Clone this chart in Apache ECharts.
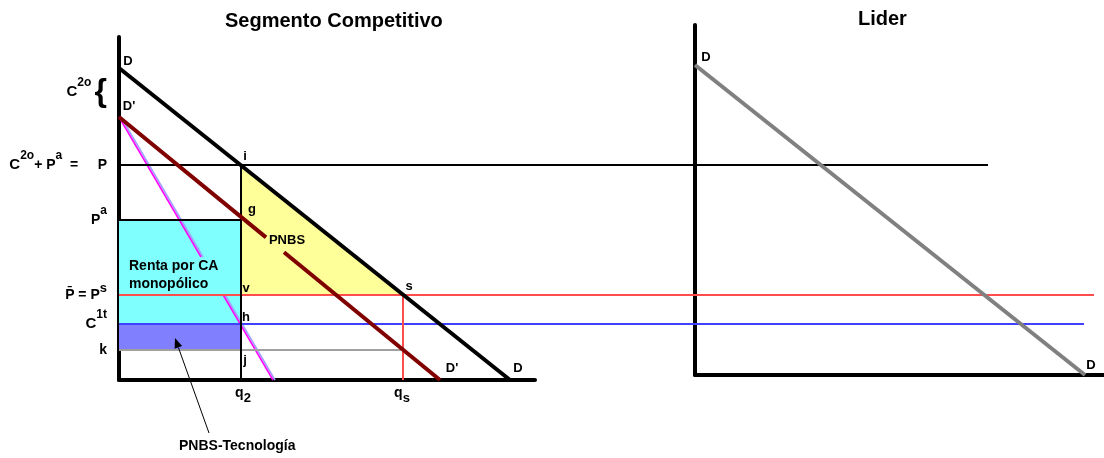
<!DOCTYPE html>
<html style="height: 100%">
<head>
<meta charset="utf-8">
<script src="https://cdn.jsdelivr.net/npm/echarts@6/dist/echarts.min.js"></script>
</head>
<body style="height: 100%; margin: 0; background: #fff">
<div id="container" style="width: 1104px; height: 458px;"></div>
<script type="text/javascript">
// cantidades (x) y precios (y), 1 unidad = 20 px en ambos paneles
var curvaD = [[0, 15.6], [19.55, 0]];
var curvaD2a = [[0, 13.15], [7.35, 7.13]];
var curvaD2b = [[8.25, 6.39], [16.05, 0]];
var tecA = [0, 13.15, 4.1, 6.15];
var tecB = [5.21, 4.25, 7.7, 0];
var lineaP = [[0, 10.75], [43.45, 10.75]];
var lineaPa = [[0, 8], [6.1, 8]];
var lineaPs = [[0, 4.25], [48.75, 4.25]];
var lineaC1t = [[0, 2.8], [48.25, 2.8]];
var lineaK = [[0, 1.5], [14.2, 1.5]];
var lineaQ2 = [[6.1, 0], [6.1, 10.75]];
var lineaQs = [[14.2, 0], [14.2, 4.25]];
var triPNBS = [6.1, 10.75, 6.1, 4.25, 14.2, 4.25];
var rectRenta = [0, 2.8, 6.1, 2.8, 6.1, 8, 0, 8];
var rectTec = [0, 1.5, 6.1, 1.5, 6.1, 2.8, 0, 2.8];
var flecha = [4.5, -2.65, 2.8, 2.1];
var liderD = [[0, 15.5], [19.5, 0]];

var precioTicks = [1.5, 2.8, 4.25, 8, 10.75, 14.4];
var precioTextos = [
	'{b|k}',
	'{c|C}{s|1t}',
	'{b|P\u0304 = P}{s2|s}',
	'{b|P}{s|a}',
	'{c|C}{s|2o}{b|+ P}{s|a}{b|  =     P}',
	'{c|C}{s|2o} {br|{}'
];
// [x, y, texto, align, tamaño]
var etiquetas = [
	[0.45, 15.95, 'D', 'center'],
	[0.5, 13.7, "D'", 'center'],
	[6.3, 11.2, 'i', 'center'],
	[6.65, 8.55, 'g', 'center'],
	[8.4, 7.0, 'PNBS', 'center'],
	[14.5, 4.7, 's', 'center'],
	[6.35, 4.6, 'v', 'center'],
	[6.35, 3.15, 'h', 'center'],
	[6.3, 1.0, 'j', 'center'],
	[16.65, 0.6, "D'", 'center'],
	[19.95, 0.6, 'D', 'center'],
	[0.5, 5.25, 'Renta por CA\nmonopólico', 'left', 14],
	[6.2, -0.65, '{q|q}{sub|2}', 'center'],
	[14.15, -0.65, '{q|q}{sub|s}', 'center'],
	[3.0, -3.3, 'PNBS-Tecnología', 'left', 14]
];
var etiquetasLider = [[0.55, 15.9, 'D'], [19.8, 0.5, 'D']];

var fuente = 'Liberation Sans, Arial, sans-serif';

function tramo(data, color, width, grid) {
	return {
		type : 'line',
		xAxisIndex : grid || 0,
		yAxisIndex : grid || 0,
		data : data,
		symbol : 'none',
		clip : false,
		silent : true,
		animation : false,
		lineStyle : { color : color, width : width },
		z : 3
	};
}
// linea doble magenta / celeste
function tecnologia(seg) {
	return {
		type : 'custom',
		xAxisIndex : 0,
		yAxisIndex : 0,
		data : [seg],
		silent : true,
		animation : false,
		z : 3,
		renderItem : function(params, api) {
			var a = api.coord([api.value(0), api.value(1)]);
			var b = api.coord([api.value(2), api.value(3)]);
			return {
				type : 'group',
				children : [
					{ type : 'line', shape : { x1 : a[0] + 2, y1 : a[1], x2 : b[0] + 2, y2 : b[1] }, style : { stroke : '#a0a0ff', lineWidth : 1.5 } },
					{ type : 'line', shape : { x1 : a[0], y1 : a[1], x2 : b[0], y2 : b[1] }, style : { stroke : '#ff00ff', lineWidth : 1.5 } }
				]
			};
		}
	};
}
function poligono(pts, color) {
	return {
		type : 'custom',
		xAxisIndex : 0,
		yAxisIndex : 0,
		data : [pts],
		silent : true,
		animation : false,
		z : 1,
		renderItem : function(params, api) {
			var p = [];
			for (var i = 0; i < pts.length; i += 2) {
				p.push(api.coord([api.value(i), api.value(i + 1)]));
			}
			return { type : 'polygon', shape : { points : p }, style : { fill : color } };
		}
	};
}
function textos(lista, grid) {
	return {
		type : 'scatter',
		xAxisIndex : grid,
		yAxisIndex : grid,
		symbolSize : 1,
		clip : false,
		silent : true,
		animation : false,
		itemStyle : { color : 'rgba(0,0,0,0)', opacity : 1 },
		z : 5,
		data : lista.map(function(e) {
			var lab = { align : e[3] || 'center' };
			if (e[4]) lab.fontSize = e[4];
			return { value : [e[0], e[1]], name : e[2], label : lab };
		}),
		label : {
			show : true,
			position : 'inside',
			color : '#000',
			textBorderWidth : 0,
			fontFamily : fuente,
			fontWeight : 'bold',
			fontSize : 13,
			lineHeight : 18,
			formatter : function(p) { return p.name; },
			rich : {
				q : { fontSize : 14, fontWeight : 'bold', fontFamily : fuente, color : '#000' },
				sub : { fontSize : 13, fontWeight : 'bold', fontFamily : fuente, color : '#000', padding : [10, 0, 0, 0] }
			}
		}
	};
}

var myChart = echarts.init(document.getElementById('container'));
var eje = { show : true, lineStyle : { color : '#000', width : 4 } };
var oculto = { show : false };
var option = {
	backgroundColor : '#fff',
	title : [ {
		text : 'Segmento Competitivo',
		left : 220, top : 6,
		textStyle : { fontFamily : fuente, fontSize : 20, fontWeight : 'bold', color : '#000' }
	}, {
		text : 'Lider',
		left : 853, top : 4,
		textStyle : { fontFamily : fuente, fontSize : 20, fontWeight : 'bold', color : '#000' }
	} ],
	grid : [
		{ left : 119, top : 37, width : 416, height : 343 },
		{ left : 695, top : 25, right : 0, bottom : 83 },
		{ left : 119, top : 37, right : 0, height : 343 }
	],
	xAxis : [
		{ gridIndex : 0, type : 'value', min : 0, max : 20.8, axisLine : eje, axisTick : oculto, axisLabel : oculto, splitLine : oculto },
		{ gridIndex : 1, type : 'value', min : 0, max : 20.45, axisLine : eje, axisTick : oculto, axisLabel : oculto, splitLine : oculto },
		{ gridIndex : 2, type : 'value', min : 0, max : 49.25, show : false }
	],
	yAxis : [
		{ gridIndex : 0, type : 'value', min : 0, max : 17.15, axisLine : eje, axisTick : oculto, splitLine : oculto,
			axisLabel : {
				show : true,
				margin : 12,
				customValues : precioTicks,
				formatter : function(v) { return precioTextos[precioTicks.indexOf(v)]; },
				rich : {
					b : { fontSize : 14, fontWeight : 'bold', fontFamily : fuente, color : '#000' },
					c : { fontSize : 15, fontWeight : 'bold', fontFamily : fuente, color : '#000' },
					s : { fontSize : 12, fontWeight : 'bold', fontFamily : fuente, color : '#000', padding : [0, 0, 18, 0] },
					s2 : { fontSize : 13, fontWeight : 'bold', fontFamily : fuente, color : '#000', padding : [0, 0, 14, 0] },
					br : { fontSize : 32, fontWeight : 'bold', fontFamily : fuente, color : '#000' }
				}
			}
		},
		{ gridIndex : 1, type : 'value', min : 0, max : 17.5, axisLine : eje, axisTick : oculto, axisLabel : oculto, splitLine : oculto },
		{ gridIndex : 2, type : 'value', min : 0, max : 17.15, show : false }
	],
	series : [
		poligono(triPNBS, '#ffff99'),
		poligono(rectRenta, '#80ffff'),
		poligono(rectTec, '#8080ff'),
		tramo(lineaP, '#000', 2, 2),
		tramo(lineaPa, '#000', 2),
		tramo(lineaPs, '#ff4c4c', 2, 2),
		tramo(lineaC1t, '#4040ff', 2, 2),
		tramo(lineaK, '#a0a0a0', 2),
		tramo(lineaQ2, '#000', 2),
		tramo(lineaQs, '#ff4c4c', 2),
		tramo(curvaD, '#000', 4),
		tramo(curvaD2a, '#800000', 4),
		tramo(curvaD2b, '#800000', 4),
		tecnologia(tecA),
		tecnologia(tecB),
		{
			type : 'custom',
			xAxisIndex : 0,
			yAxisIndex : 0,
			data : [flecha],
			silent : true,
			animation : false,
			z : 4,
			renderItem : function(params, api) {
				var a = api.coord([api.value(0), api.value(1)]);
				var b = api.coord([api.value(2), api.value(3)]);
				var ang = Math.atan2(b[1] - a[1], b[0] - a[0]);
				var L = 10, W = 4;
				var bx = b[0] - L * Math.cos(ang), by = b[1] - L * Math.sin(ang);
				var l = [bx + W * Math.sin(ang), by - W * Math.cos(ang)];
				var r = [bx - W * Math.sin(ang), by + W * Math.cos(ang)];
				return {
					type : 'group',
					children : [
						{ type : 'line', shape : { x1 : a[0], y1 : a[1], x2 : bx, y2 : by }, style : { stroke : '#000', lineWidth : 1 } },
						{ type : 'polygon', shape : { points : [b, l, r] }, style : { fill : '#000' } }
					]
				};
			}
		},
		tramo(liderD, '#808080', 4, 1),
		textos(etiquetas, 0),
		textos(etiquetasLider, 1)
	]
};
myChart.setOption(option);
</script>
</body>
</html>
